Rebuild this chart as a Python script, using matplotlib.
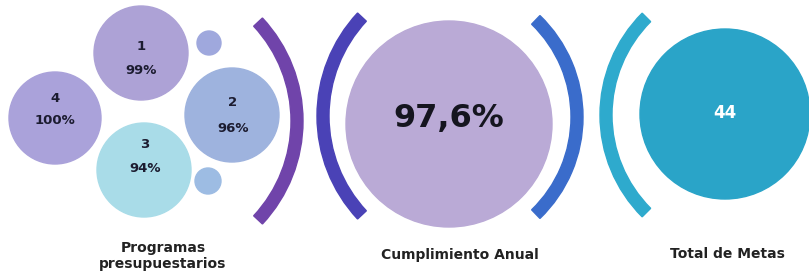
import matplotlib
matplotlib.use('Agg')
import matplotlib.pyplot as plt
from matplotlib.patches import Circle, Wedge

# data
program_ids = ['1', '2', '3', '4']
program_pct = [99, 96, 94, 100]
cumplimiento_anual = 97.6
total_metas = 44
section_labels = ['Programas\npresupuestarios', 'Cumplimiento Anual', 'Total de Metas']

fig = plt.figure(figsize=(8.09, 2.74), dpi=100)
fig.patch.set_facecolor('white')
ax = fig.add_axes([0, 0, 1, 1])
ax.set_xlim(0, 809)
ax.set_ylim(274, 0)
ax.set_aspect('equal')
ax.axis('off')

# program bubbles (center x, center y, radius, color)
bubbles = {
    '1': (141, 53, 47, '#ada2d6'),
    '2': (232, 115, 47, '#9eb3de'),
    '3': (144, 170, 47, '#a9dce8'),
    '4': (55, 118, 46, '#aaa2da'),
}
text_pos = {
    '1': (141, 47, 71),
    '2': (233, 102, 128),
    '3': (145, 144, 169),
    '4': (55, 99, 121),
}
for pid, pct in zip(program_ids, program_pct):
    cx, cy, r, col = bubbles[pid]
    ax.add_patch(Circle((cx, cy), r, color=col, zorder=2))
    tx, ty1, ty2 = text_pos[pid]
    ax.text(tx, ty1, pid, ha='center', va='center', fontsize=9.5,
            fontweight='bold', color='#1c1c30', zorder=5)
    ax.text(tx, ty2, f'{pct}%', ha='center', va='center', fontsize=9.5,
            fontweight='bold', color='#1c1c30', zorder=5)

# small decorative dots
ax.add_patch(Circle((209, 43), 12, color='#9fa8dd', zorder=2))
ax.add_patch(Circle((208, 181), 13, color='#9dbce3', zorder=2))

# brackets
def bracket(cx, cy, R, a0, a1, color):
    ax.add_patch(Wedge((cx, cy), R + 6, a0, a1, width=12, color=color, zorder=3))

bracket(152, 121, 145, -43, 43, '#7044aa')
bracket(468, 116, 145, 137, 223, '#4a42b6')
bracket(442, 117, 135, -46, 46, '#3a6ccb')
bracket(744, 115, 138, 135, 225, '#2eaacd')

# big circle - cumplimiento
ax.add_patch(Circle((449, 124), 103, color='#baaad6', zorder=2))
ax.text(449, 118, f'{cumplimiento_anual:.1f}%'.replace('.', ','), ha='center',
        va='center', fontsize=23, fontweight='bold', color='#15151f', zorder=5)

# teal circle - total de metas
ax.add_patch(Circle((725, 114), 85, color='#2aa4c8', zorder=2))
ax.text(725, 113, str(total_metas), ha='center', va='center', fontsize=12,
        fontweight='bold', color='white', zorder=5)

# section labels
ax.text(163, 256, section_labels[0], ha='center', va='center', fontsize=10,
        fontweight='bold', color='#222222', linespacing=1.25)
ax.text(460, 255, section_labels[1], ha='center', va='center', fontsize=10,
        fontweight='bold', color='#222222')
ax.text(727, 254, section_labels[2], ha='center', va='center', fontsize=10,
        fontweight='bold', color='#222222')

fig.savefig('out.png', dpi=100, facecolor='white')
